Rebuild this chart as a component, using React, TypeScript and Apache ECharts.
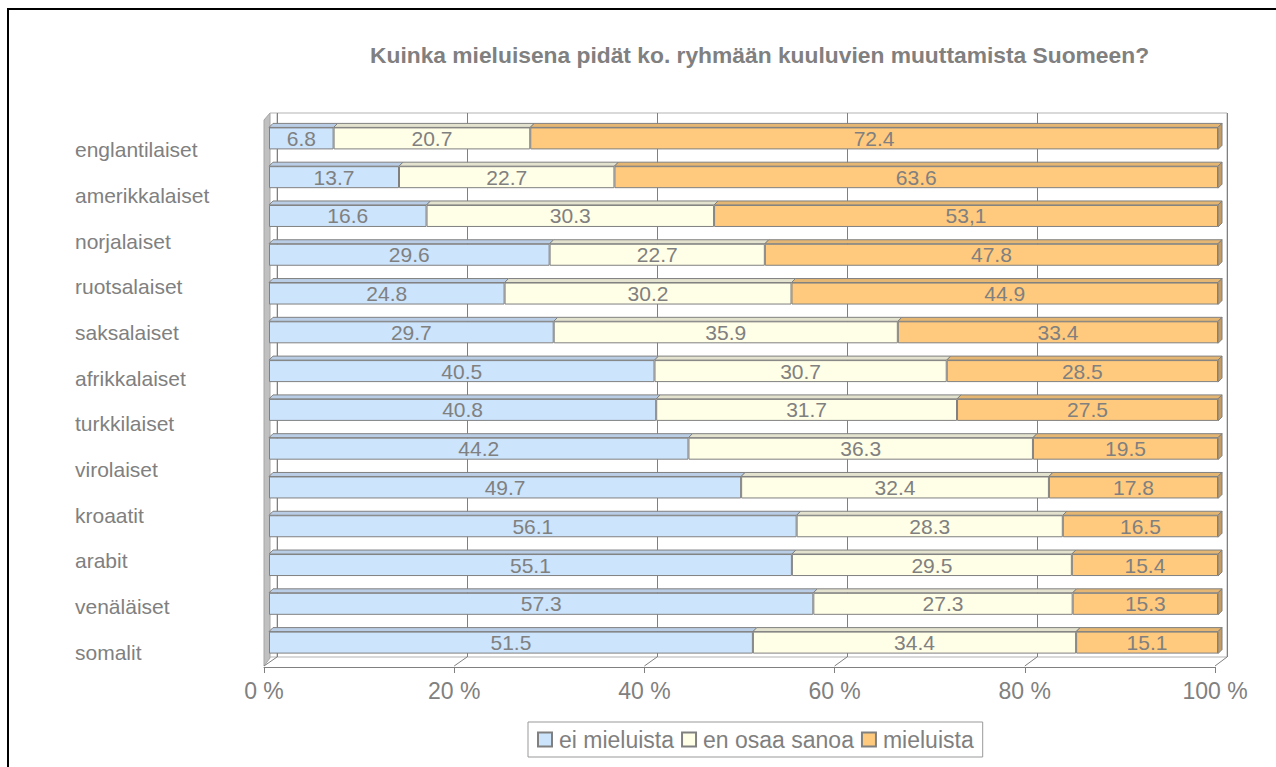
import React, { useEffect, useRef } from "react";
import * as echarts from "echarts";

const titleText = "Kuinka mieluisena pidät ko. ryhmään kuuluvien muuttamista Suomeen?";
// labels shown on the category axis (as in the original, 12 labels beside 14 bars)
const categoryLabels = [
  "englantilaiset", "amerikkalaiset", "norjalaiset", "ruotsalaiset", "saksalaiset", "afrikkalaiset",
  "turkkilaiset", "virolaiset", "kroaatit", "arabit", "venäläiset", "somalit",
];
const barRows = ["1", "2", "3", "4", "5", "6", "7", "8", "9", "10", "11", "12", "13", "14"];
const seriesNames = ["ei mieluista", "en osaa sanoa", "mieluista"];
const eiMieluistaLabels = ["6.8", "13.7", "16.6", "29.6", "24.8", "29.7", "40.5", "40.8", "44.2", "49.7", "56.1", "55.1", "57.3", "51.5"];
const enOsaaSanoaLabels = ["20.7", "22.7", "30.3", "22.7", "30.2", "35.9", "30.7", "31.7", "36.3", "32.4", "28.3", "29.5", "27.3", "34.4"];
const mieluistaLabels = ["72.4", "63.6", "53,1", "47.8", "44.9", "33.4", "28.5", "27.5", "19.5", "17.8", "16.5", "15.4", "15.3", "15.1"];
const xTicks = [0, 20, 40, 60, 80, 100];

const FONT = "'Liberation Sans', Arial, sans-serif";
const GRAY = "#808080";
const frontColors = ["#CCE4FC", "#FFFEE6", "#FFCA7D"];
const topColors = ["#B9CEE6", "#E3E2CE", "#E4B672"];
const sideColor = "#C49C63";
const BAR_H = 22;
const DX = 4;
const DY = 4;

const labelSets = [eiMieluistaLabels, enOsaaSanoaLabels, mieluistaLabels];
const toNum = (s: string) => parseFloat(s.replace(",", "."));
const rawValues = labelSets.map((set) => set.map(toNum));
const totals = barRows.map((_, i) => rawValues.reduce((a, s) => a + s[i], 0));
const pctValues = rawValues.map((s) => s.map((v, i) => (v / totals[i]) * 100));

export default function App() {
  const ref = useRef<HTMLDivElement>(null);
  useEffect(() => {
    if (!ref.current) return;
    const chart = echarts.init(ref.current, null, { renderer: "svg" });

    const faceData: number[][] = [];
    barRows.forEach((_, i) => {
      let acc = 0;
      pctValues.forEach((s, k) => {
        faceData.push([acc, acc + s[i], i, k]);
        acc += s[i];
      });
    });

    const barSeries = seriesNames.map((name, k) => ({
      name,
      type: "bar",
      stack: "total",
      xAxisIndex: 2,
      yAxisIndex: 2,
      barWidth: BAR_H,
      z: 3,
      data: pctValues[k],
      itemStyle: { color: frontColors[k], borderColor: GRAY, borderWidth: 1 },
      label: {
        show: true,
        position: "inside",
        color: GRAY,
        fontSize: 21,
        fontFamily: FONT,
        formatter: (p: any) => labelSets[k][p.dataIndex],
      },
    }));

    const faces = {
      type: "custom",
      xAxisIndex: 2,
      yAxisIndex: 2,
      z: 2,
      silent: true,
      encode: { x: [0, 1], y: 2 },
      data: faceData,
      renderItem: (params: any, api: any) => {
        const s = api.value(0);
        const e = api.value(1);
        const r = api.value(2);
        const k = api.value(3);
        const p0 = api.coord([s, r]);
        const p1 = api.coord([e, r]);
        const yTop = p0[1] - BAR_H / 2;
        const children: any[] = [
          {
            type: "polygon",
            shape: {
              points: [
                [p0[0], yTop],
                [p1[0], yTop],
                [p1[0] + DX, yTop - DY],
                [p0[0] + DX, yTop - DY],
              ],
            },
            style: { fill: topColors[k], stroke: GRAY, lineWidth: 1 },
          },
        ];
        if (k === 2) {
          children.push({
            type: "polygon",
            shape: {
              points: [
                [p1[0], yTop],
                [p1[0] + DX, yTop - DY],
                [p1[0] + DX, yTop + BAR_H - DY],
                [p1[0], yTop + BAR_H],
              ],
            },
            style: { fill: sideColor, stroke: GRAY, lineWidth: 1 },
          });
        }
        return { type: "group", children };
      },
    };

    const option: any = {
      animation: false,
      backgroundColor: "#ffffff",
      title: {
        text: titleText,
        left: 370,
        top: 43,
        padding: 0,
        textStyle: { fontSize: 22.8, fontWeight: "bold", color: GRAY, fontFamily: FONT },
      },
      legend: {
        data: seriesNames,
        left: 528,
        top: 722,
        orient: "horizontal",
        icon: "rect",
        itemWidth: 14,
        itemHeight: 14,
        itemGap: 7,
        padding: [6, 9, 6, 9],
        borderColor: "#999999",
        borderWidth: 1,
        textStyle: { fontSize: 23, color: GRAY, fontFamily: FONT, padding: [0, 0, 0, 2] },
      },
      grid: [
        { left: 277, top: 113, width: 950, height: 544, show: true, borderColor: "#b3b3b3", borderWidth: 1, backgroundColor: "#ffffff" },
        { left: 264, top: 660, width: 951, height: 7 },
        { left: 269, top: 119, width: 949, height: 543 },
        { left: 264, top: 127, width: 10, height: 548 },
      ],
      xAxis: [
        {
          gridIndex: 0, type: "value", min: 0, max: 100, interval: 20,
          axisLine: { show: false }, axisTick: { show: false }, axisLabel: { show: false },
          splitLine: { show: true, lineStyle: { color: GRAY, width: 1 } },
        },
        {
          gridIndex: 1, type: "value", min: 0, max: 100, interval: 20,
          axisLine: { show: true, lineStyle: { color: GRAY, width: 1 } },
          axisTick: { show: true, length: 6, lineStyle: { color: GRAY } },
          splitLine: { show: false },
          axisLabel: { formatter: "{value} %", fontSize: 23, color: GRAY, fontFamily: FONT, margin: 12 },
        },
        { gridIndex: 2, type: "value", min: 0, max: 100, show: false },
        { gridIndex: 3, type: "value", min: 0, max: 100, show: false },
      ],
      yAxis: [
        { gridIndex: 0, type: "category", data: barRows, show: false },
        { gridIndex: 1, type: "category", data: [""], show: false },
        { gridIndex: 2, type: "category", data: barRows, inverse: true, show: false },
        {
          gridIndex: 3, type: "category", data: categoryLabels, inverse: true,
          axisLine: { show: false }, axisTick: { show: false }, splitLine: { show: false },
          axisLabel: { align: "left", margin: 189, fontSize: 21, color: GRAY, fontFamily: FONT },
        },
      ],
      series: [...barSeries, faces],
    };
    chart.setOption(option);

    // decorative 3D floor / walls tied to axis positions
    const floorLines = xTicks.map((t) => {
      const xf = chart.convertToPixel({ xAxisIndex: 1 }, t) as number;
      const xb = chart.convertToPixel({ xAxisIndex: 0 }, t) as number;
      return {
        type: "line",
        silent: true,
        shape: { x1: xf, y1: 666, x2: xb, y2: 657 },
        style: { stroke: GRAY, lineWidth: 1 },
        z: 1,
      };
    });
    chart.setOption({
      graphic: [
        {
          type: "rect",
          silent: true,
          shape: { x: 8, y: 9, width: 1320, height: 820 },
          style: { fill: "none", stroke: "#000000", lineWidth: 2 },
          z: 100,
        },
        {
          type: "polygon",
          silent: true,
          shape: { points: [[264, 120], [270, 113], [270, 658], [264, 666]] },
          style: { fill: "#c0c0c0", stroke: "#a6a6a6", lineWidth: 1 },
          z: 1,
        },
        {
          type: "line",
          silent: true,
          shape: { x1: 270, y1: 113, x2: 277, y2: 113 },
          style: { stroke: "#b3b3b3", lineWidth: 1 },
          z: 1,
        },
        {
          type: "line",
          silent: true,
          shape: { x1: 270, y1: 657, x2: 277, y2: 657 },
          style: { stroke: "#b3b3b3", lineWidth: 1 },
          z: 1,
        },
        ...floorLines,
      ],
    });

    return () => chart.dispose();
  }, []);
  return (
    <div
      ref={ref}
      style={{ position: "absolute", left: 0, top: 0, width: 1276, height: 767 }}
    />
  );
}
